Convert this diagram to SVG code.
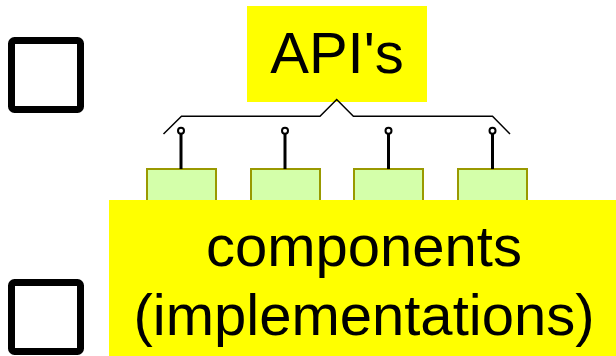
<svg xmlns="http://www.w3.org/2000/svg" width="616" height="356" viewBox="0 0 616 356">
<style>
.cb{fill:#fff;stroke:#000;stroke-width:7}
.comp{fill:#d4ffaa;stroke:#999900;stroke-width:2}
.lbl{fill:#ffff00}
.txt{font-family:"Liberation Sans",Arial,sans-serif;font-size:58px;fill:#000;text-anchor:middle}
.stem{stroke:#000;stroke-width:3}
.lolly{fill:#fff;stroke:#000;stroke-width:2}
.brace{fill:none;stroke:#000;stroke-width:1.5}
</style>
<rect width="616" height="356" fill="#fff"/>
<g id="checkbox1"><rect class="cb" x="11.5" y="40.5" width="69" height="69" rx="3"/></g>
<g id="checkbox2"><rect class="cb" x="11.5" y="282.5" width="69" height="69" rx="3"/></g>
<g id="component1"><rect class="comp" x="147" y="169" width="69" height="45"/></g>
<g id="component2"><rect class="comp" x="251" y="169" width="69" height="45"/></g>
<g id="component3"><rect class="comp" x="354" y="169" width="69" height="45"/></g>
<g id="component4"><rect class="comp" x="458" y="169" width="69" height="45"/></g>
<g id="components">
<rect class="lbl" x="109" y="200" width="507" height="156"/>
<text class="txt" x="364" y="266">components</text>
<text class="txt" x="364" y="335">(implementations)</text>
</g>
<g id="apis">
<rect class="lbl" x="247" y="6" width="180" height="96"/>
<text class="txt" x="337" y="73">API's</text>
</g>
<g id="connectors">
<path class="brace" d="M163.5,134 L181.5,116.3 L320,116.3 L336.7,99.5 L353.4,116.3 L492.5,116.3 L510,134"/>
<line class="stem" x1="181" y1="134" x2="181" y2="169"/>
<line class="stem" x1="285" y1="134" x2="285" y2="169"/>
<line class="stem" x1="388.5" y1="134" x2="388.5" y2="169"/>
<line class="stem" x1="492.5" y1="134" x2="492.5" y2="169"/>
<circle class="lolly" cx="181" cy="130.7" r="3"/>
<circle class="lolly" cx="285" cy="130.7" r="3"/>
<circle class="lolly" cx="388.5" cy="130.7" r="3"/>
<circle class="lolly" cx="492.5" cy="130.7" r="3"/>
</g>
</svg>
